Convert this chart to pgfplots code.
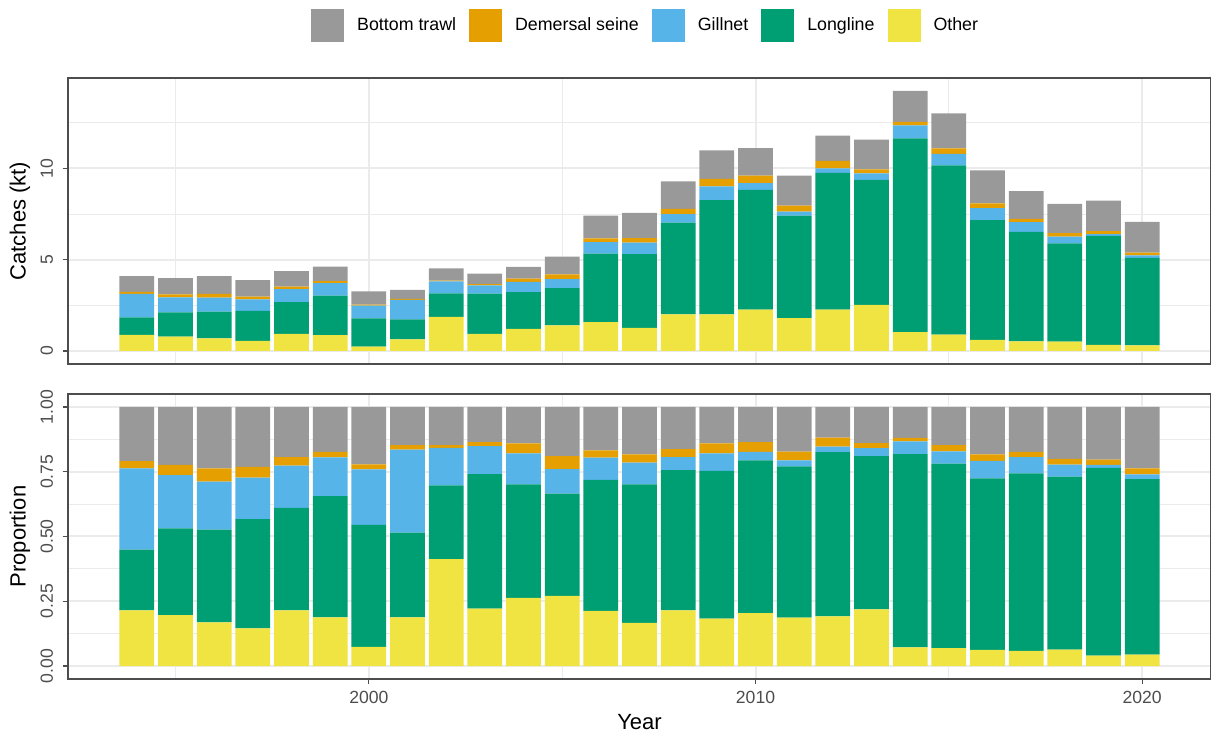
\documentclass[border=0pt]{standalone}
\usepackage{pgfplots}
\usepackage{pgfplotstable}
\usepackage{fontspec}
\setmainfont{Liberation Sans}
\pgfplotsset{compat=1.18}

\definecolor{cTrawl}{HTML}{999999}
\definecolor{cSeine}{HTML}{E69F00}
\definecolor{cGill}{HTML}{56B4E9}
\definecolor{cLong}{HTML}{009E73}
\definecolor{cOther}{HTML}{F0E442}
\definecolor{grid92}{HTML}{EBEBEB}
\definecolor{grey20}{HTML}{4D4D4D}
\definecolor{grey30}{HTML}{4D4D4D}

% Catches by gear type (kt)
\pgfplotstableread{
year other longline gillnet seine trawl
1994 0.88 0.96 1.29 0.11 0.86
1995 0.79 1.33 0.82 0.16 0.89
1996 0.69 1.47 0.76 0.21 0.97
1997 0.56 1.64 0.62 0.16 0.90
1998 0.94 1.73 0.72 0.14 0.85
1999 0.87 2.16 0.69 0.10 0.80
2000 0.24 1.54 0.70 0.06 0.73
2001 0.63 1.10 1.07 0.06 0.49
2002 1.87 1.28 0.66 0.05 0.66
2003 0.94 2.20 0.46 0.06 0.58
2004 1.21 2.02 0.55 0.18 0.65
2005 1.40 2.04 0.49 0.26 0.98
2006 1.58 3.75 0.63 0.21 1.24
2007 1.26 4.04 0.64 0.24 1.38
2008 2.00 5.03 0.46 0.29 1.51
2009 2.01 6.25 0.75 0.42 1.55
2010 2.27 6.55 0.37 0.41 1.51
2011 1.80 5.61 0.22 0.33 1.65
2012 2.27 7.48 0.25 0.41 1.39
2013 2.53 6.84 0.36 0.22 1.62
2014 1.03 10.62 0.70 0.20 1.69
2015 0.90 9.27 0.62 0.31 1.91
2016 0.61 6.55 0.67 0.25 1.81
2017 0.52 6.00 0.54 0.18 1.52
2018 0.51 5.38 0.37 0.19 1.61
2019 0.33 5.98 0.09 0.17 1.67
2020 0.31 4.79 0.13 0.16 1.68
}\catches

% Share of each gear type in the yearly catch
\pgfplotstableread{
year other longline gillnet seine trawl
1994 0.215 0.234 0.314 0.028 0.209
1995 0.197 0.334 0.206 0.039 0.224
1996 0.169 0.358 0.185 0.051 0.237
1997 0.145 0.422 0.160 0.042 0.231
1998 0.215 0.395 0.164 0.032 0.194
1999 0.188 0.468 0.149 0.022 0.173
2000 0.074 0.471 0.214 0.019 0.222
2001 0.188 0.327 0.320 0.018 0.147
2002 0.413 0.284 0.145 0.011 0.147
2003 0.222 0.519 0.108 0.015 0.136
2004 0.263 0.438 0.120 0.038 0.141
2005 0.271 0.394 0.095 0.050 0.190
2006 0.213 0.506 0.085 0.028 0.168
2007 0.167 0.534 0.084 0.032 0.183
2008 0.215 0.541 0.050 0.031 0.163
2009 0.183 0.570 0.068 0.038 0.141
2010 0.204 0.590 0.033 0.037 0.136
2011 0.187 0.584 0.023 0.034 0.172
2012 0.192 0.634 0.021 0.035 0.118
2013 0.219 0.591 0.031 0.019 0.140
2014 0.072 0.746 0.049 0.014 0.119
2015 0.069 0.712 0.048 0.024 0.147
2016 0.062 0.662 0.068 0.025 0.183
2017 0.059 0.685 0.062 0.021 0.173
2018 0.063 0.668 0.046 0.023 0.200
2019 0.040 0.725 0.011 0.021 0.203
2020 0.044 0.677 0.019 0.023 0.237
}\props

\pgfplotsset{
  panel/.style={
    scale only axis, width=571.5pt,
    xmin=1992.22, xmax=2021.78,
    ybar stacked, bar width=0.9,
    axis line style={grey20, line width=0.55pt},
    tick align=outside, major tick length=2.75pt, minor tick length=0pt,
    tick style={grey20, line width=0.55pt},
    xtick pos=bottom, ytick pos=left,
    xtick={2000,2010,2020}, minor xtick={1995,2005,2015},
    grid=both,
    major grid style={grid92, line width=1pt},
    minor grid style={grid92, line width=0.5pt},
    ticklabel style={font=\fontsize{8.8}{10}\selectfont, text=grey30},
    yticklabel style={rotate=90, anchor=south, inner sep=4.5pt},
    label style={font=\fontsize{11}{13}\selectfont},
    ylabel style={at={(axis description cs:-0.042,0.5)}, anchor=center},
    every axis plot/.append style={draw=none},
  },
}

\begin{document}
\begin{tikzpicture}
% Catches in kt
\begin{axis}[panel,
  at={(0pt,157.5pt)}, anchor=south west, height=143pt,
  ymin=-0.712, ymax=14.95,
  ytick={0,5,10}, yticklabels={0,5,10}, minor ytick={2.5,7.5,12.5},
  xticklabels={}, xtick style={draw=none},
  ylabel={Catches (kt)},
  legend columns=5, reverse legend,
  legend image code/.code={\fill[#1] (0pt,-8.25pt) rectangle (16.5pt,8.25pt);},
  legend style={at={(0.5045,1.182)}, anchor=center, draw=none,
    font=\fontsize{8.9}{10}\selectfont, nodes={inner sep=0pt},
    legend cell align=left,
    /tikz/every odd column/.append style={column sep=6.5pt},
    /tikz/every even column/.append style={column sep=6.5pt}},
]
\addplot[fill=cOther] table[x=year, y=other] {\catches};
\addplot[fill=cLong] table[x=year, y=longline] {\catches};
\addplot[fill=cGill] table[x=year, y=gillnet] {\catches};
\addplot[fill=cSeine] table[x=year, y=seine] {\catches};
\addplot[fill=cTrawl] table[x=year, y=trawl] {\catches};
\legend{Other, Longline, Gillnet, Demersal seine, Bottom trawl}
\end{axis}

% Proportion of the catch
\begin{axis}[panel,
  at={(0pt,0pt)}, anchor=south west, height=142.5pt,
  ymin=-0.05, ymax=1.05,
  ytick={0,0.25,0.5,0.75,1}, yticklabels={0.00,0.25,0.50,0.75,1.00},
  minor ytick={0.125,0.375,0.625,0.875},
  xticklabels={2000,2010,2020},
  ylabel={Proportion}, xlabel={Year},
  xlabel style={at={(axis description cs:0.5,0)}, anchor=center, yshift=-21.5pt},
]
\addplot[fill=cOther] table[x=year, y=other] {\props};
\addplot[fill=cLong] table[x=year, y=longline] {\props};
\addplot[fill=cGill] table[x=year, y=gillnet] {\props};
\addplot[fill=cSeine] table[x=year, y=seine] {\props};
\addplot[fill=cTrawl] table[x=year, y=trawl] {\props};
\end{axis}

\pgfresetboundingbox
\path (-34pt,-29.5pt) rectangle (571.5pt,339.5pt);
\end{tikzpicture}
\end{document}
